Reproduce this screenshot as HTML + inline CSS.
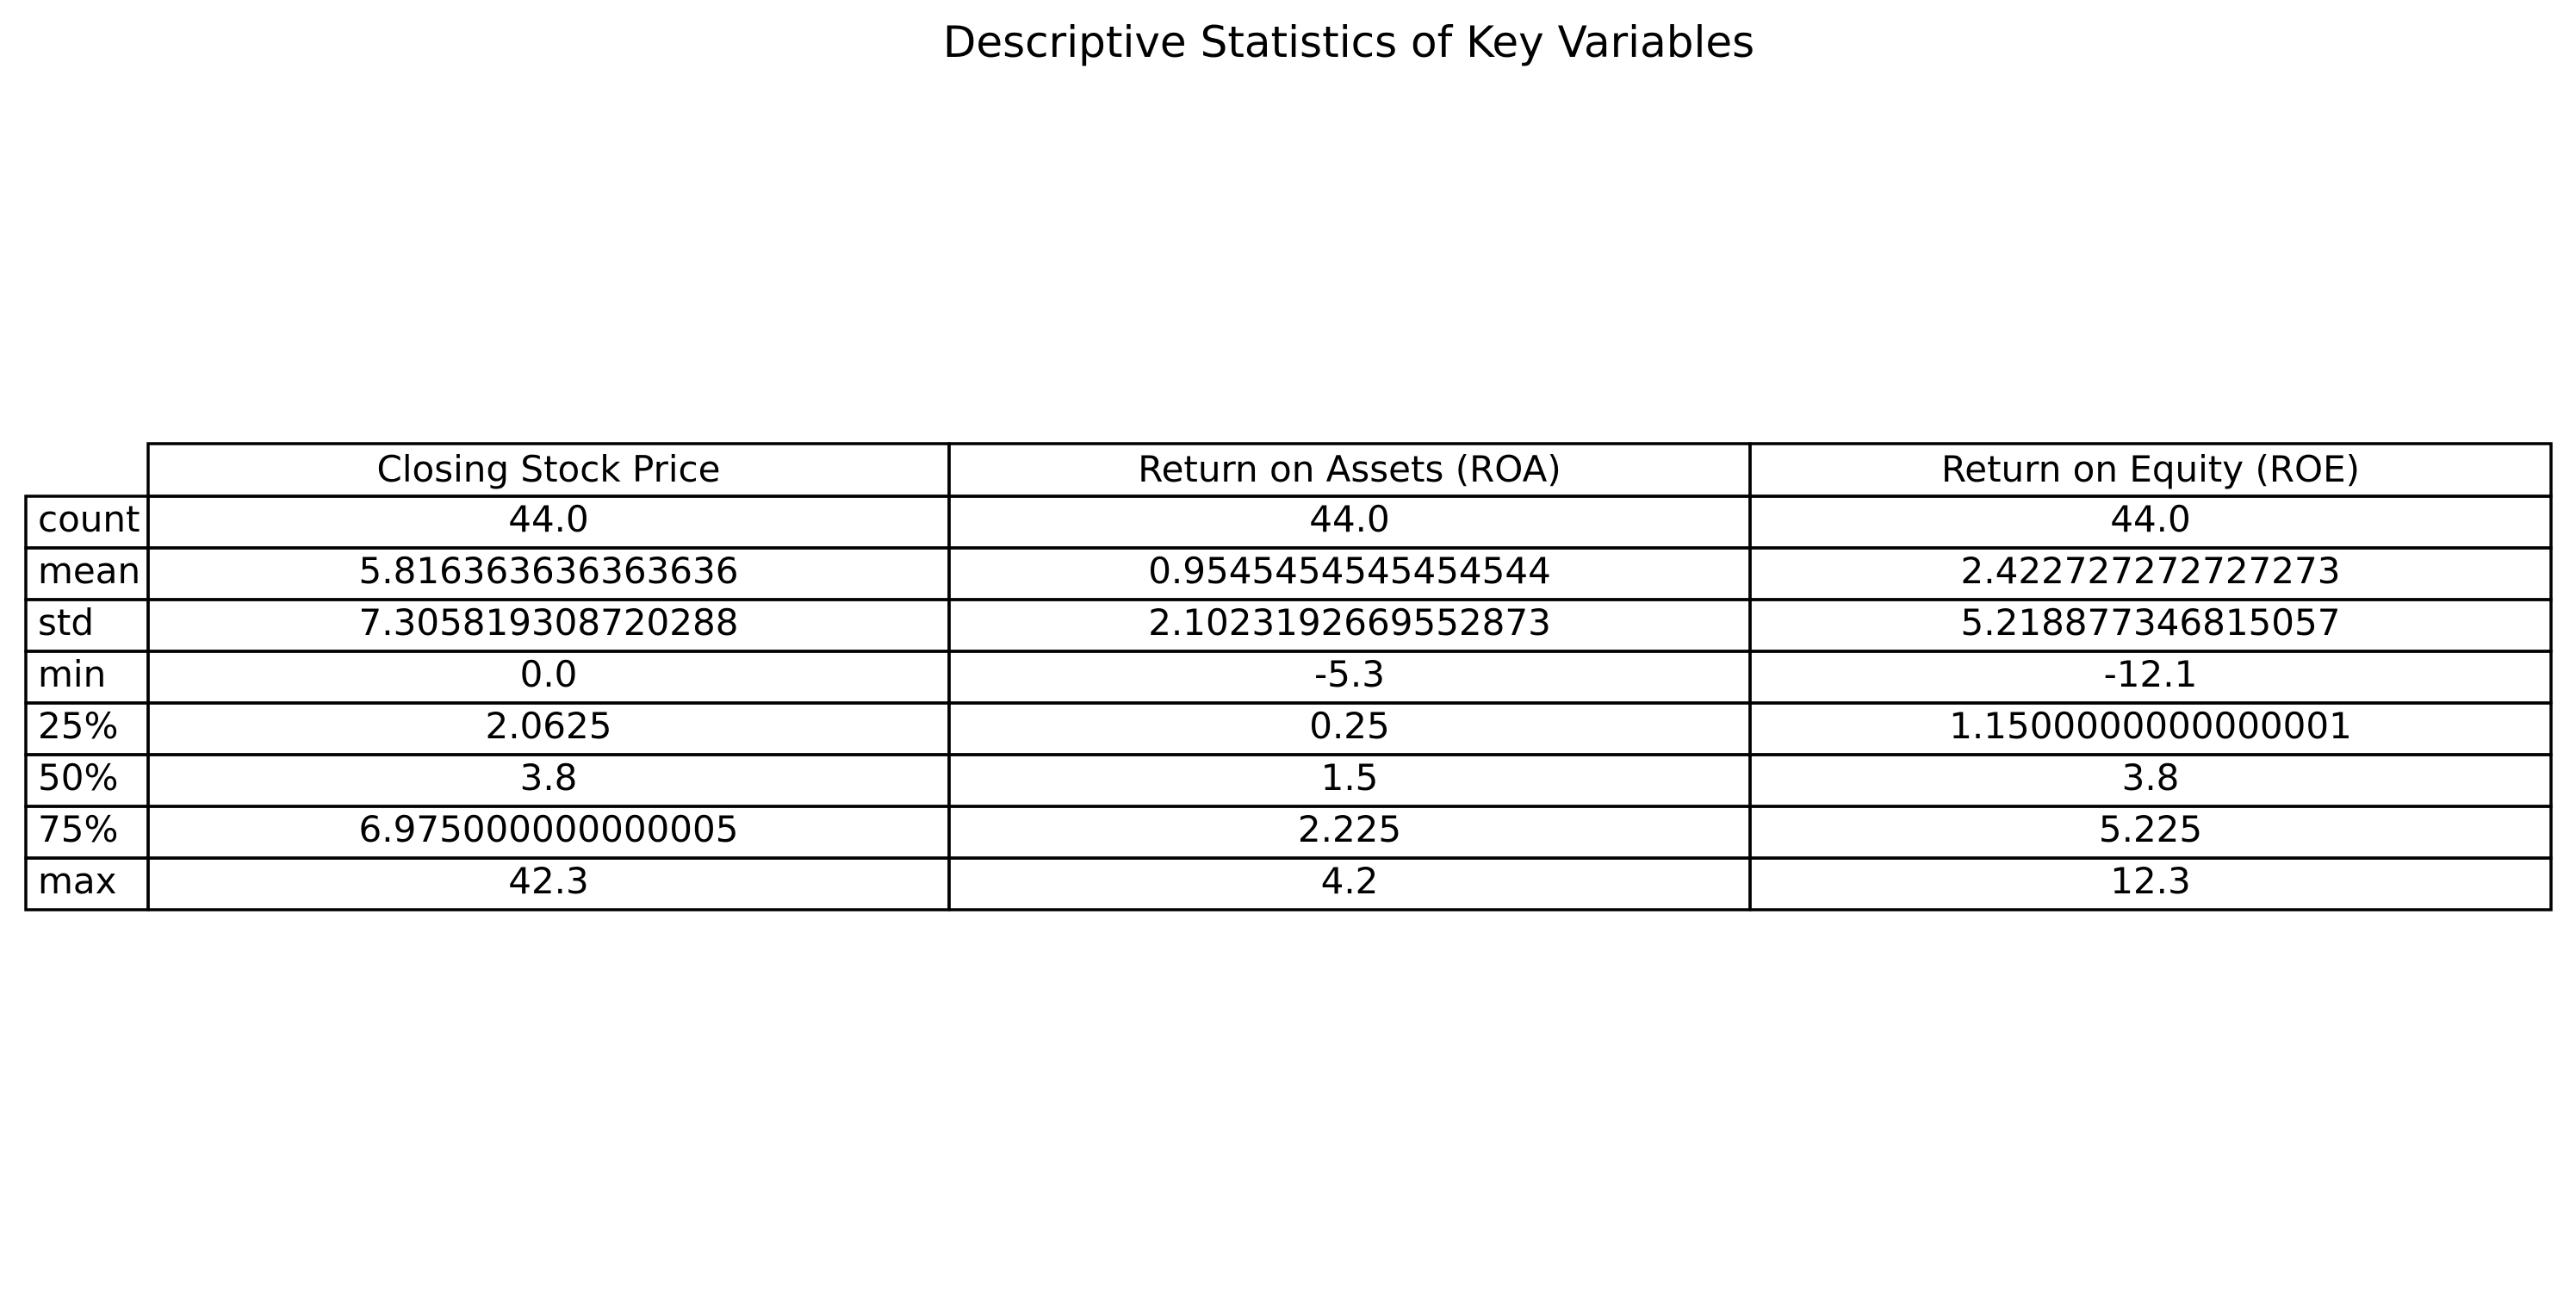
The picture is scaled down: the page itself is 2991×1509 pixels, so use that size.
<!DOCTYPE html>
<html><head><meta charset="utf-8">
<style>
html,body{margin:0;padding:0;background:#fff;}
svg{display:block;font-family:"DejaVu Sans","Liberation Sans",sans-serif;}
</style></head>
<body>
<svg id="chart" width="2991" height="1509" viewBox="0 0 2991 1509" xmlns="http://www.w3.org/2000/svg">
<rect width="2991" height="1509" fill="#fff"/>
<text x="1566" y="66" font-size="50" text-anchor="middle" fill="#000">Descriptive Statistics of Key Variables</text>
<g id="tbl"></g>
</svg>
<script>
const columns = ["Closing Stock Price", "Return on Assets (ROA)", "Return on Equity (ROE)"];
const rowLabels = ["count", "mean", "std", "min", "25%", "50%", "75%", "max"];
const closingStockPrice = ["44.0", "5.816363636363636", "7.305819308720288", "0.0", "2.0625", "3.8", "6.975000000000005", "42.3"];
const roaValues = ["44.0", "0.9545454545454544", "2.1023192669552873", "-5.3", "0.25", "1.5", "2.225", "4.2"];
const roeValues = ["44.0", "2.422727272727273", "5.218877346815057", "-12.1", "1.1500000000000001", "3.8", "5.225", "12.3"];

const series = [closingStockPrice, roaValues, roeValues];
const NS = "http://www.w3.org/2000/svg";
const g = document.getElementById("tbl");
const labelX0 = 30, x0 = 172, x1 = 2962, headerTop = 515, rowTop = 576, rowH = 60, fs = 42;
const colW = (x1 - x0) / columns.length;

function rect(x, y, w, h, name) {
  const r = document.createElementNS(NS, "rect");
  r.setAttribute("x", x); r.setAttribute("y", y);
  r.setAttribute("width", w); r.setAttribute("height", h);
  r.setAttribute("fill", "none"); r.setAttribute("stroke", "#000"); r.setAttribute("stroke-width", "3.5");
  
  
  g.appendChild(r);
}
function text(x, y, s, anchor, name) {
  const t = document.createElementNS(NS, "text");
  t.setAttribute("x", x); t.setAttribute("y", y);
  t.setAttribute("font-size", fs); t.setAttribute("text-anchor", anchor);
  t.textContent = s;
  
  
  g.appendChild(t);
}
columns.forEach((c, j) => {
  const x = x0 + j * colW;
  rect(x, headerTop, colW, rowTop - headerTop, "header-cell");
  text(x + colW / 2, headerTop + 44, c, "middle", "column-header");
});
rowLabels.forEach((lab, i) => {
  const y = rowTop + i * rowH;
  rect(labelX0, y, x0 - labelX0, rowH, "row-label-cell");
  text(labelX0 + 14, y + 41, lab, "start", "row-label");
  series.forEach((vals, j) => {
    const x = x0 + j * colW;
    rect(x, y, colW, rowH, "data-cell");
    text(x + colW / 2, y + 41, vals[i], "middle", "cell-value");
  });
});
</script>
</body></html>
